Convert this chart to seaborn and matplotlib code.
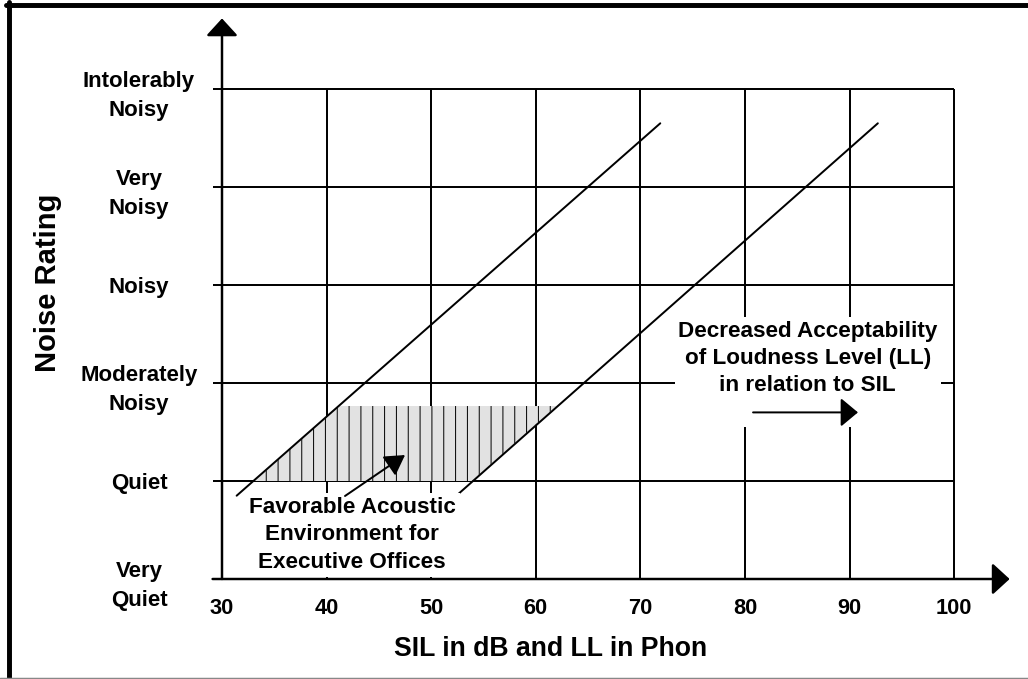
import numpy as np
import pandas as pd
import matplotlib
matplotlib.use("Agg")
import matplotlib.pyplot as plt
from matplotlib.lines import Line2D
import seaborn as sns

# ---------------- data ----------------
x_ticks = [30, 40, 50, 60, 70, 80, 90, 100]
y_levels = [0, 1, 2, 3, 4, 5]
y_labels = ["Very\nQuiet", "Quiet", "Moderately\nNoisy", "Noisy",
            "Very\nNoisy", "Intolerably\nNoisy"]

line1_x = [31.4, 71.9]
line1_y = [0.85, 4.65]
line2_x = [52.3, 92.7]
line2_y = [0.84, 4.65]

zone_y = [1.0, 1.765]
zone_left = [33.1, 41.2]
zone_right = [53.9, 62.0]

fav_arrow_tail = (41.76, 0.847)
fav_arrow_head = (47.5, 1.265)
dec_arrow_tail = (80.77, 1.70)
dec_arrow_head = (90.8, 1.70)

fav_text = "Favorable Acoustic\nEnvironment for\nExecutive Offices"
fav_pos = (42.43, 0.449)
dec_text = "Decreased Acceptability\nof Loudness Level (LL)\nin relation to SIL\n "
dec_pos = (86.0, 2.11)

x_axis_start, x_axis_end = 29.1, 105.3
y_axis_top = 5.72
grid_left = 29.1

# ---------------- style ----------------
sns.set_theme(style="white")
plt.rcParams["font.family"] = ["Liberation Sans", "DejaVu Sans"]
plt.rcParams["hatch.linewidth"] = 1.0
plt.rcParams["text.color"] = "black"
plt.rcParams["axes.labelcolor"] = "black"
plt.rcParams["xtick.color"] = "black"
plt.rcParams["ytick.color"] = "black"

DPI = 71
fig = plt.figure(figsize=(1028 / DPI, 679 / DPI), dpi=DPI)
ax = fig.add_axes([0.19560, 0.13284, 0.79366, 0.86598])
ax.set_xlim(28, 106)
ax.set_ylim(-0.1, 5.9)
for s in ax.spines.values():
    s.set_visible(False)
ax.set_facecolor("white")

# grid
ax.hlines(y_levels[1:], grid_left, x_ticks[-1], color="black", lw=2.0, zorder=1)
ax.vlines(x_ticks[1:], 0, y_levels[-1], color="black", lw=2.0, zorder=1)

# axes with arrows
ax.annotate("", xy=(x_axis_end, 0), xytext=(x_axis_start, 0),
            arrowprops=dict(arrowstyle="-|>,head_length=0.6,head_width=0.55",
                            mutation_scale=25, lw=2.5, color="black",
                            shrinkA=0, shrinkB=0), zorder=6)
ax.annotate("", xy=(x_ticks[0], y_axis_top), xytext=(x_ticks[0], 0),
            arrowprops=dict(arrowstyle="-|>,head_length=0.6,head_width=0.55",
                            mutation_scale=25, lw=2.5, color="black",
                            shrinkA=0, shrinkB=0), zorder=6)

# favourable zone
ax.fill_betweenx(zone_y, zone_left, zone_right, facecolor="#e2e2e2",
                 edgecolor="black", hatch="|", linewidth=0, zorder=2)

# diagonal lines
df = pd.DataFrame({
    "x": line1_x + line2_x,
    "y": line1_y + line2_y,
    "line": ["LL1", "LL1", "LL2", "LL2"],
})
sns.lineplot(data=df, x="x", y="y", hue="line", palette=["black", "black"],
             sort=False, estimator=None, lw=2.0, legend=False, ax=ax, zorder=3)

# texts
ax.text(*fav_pos, fav_text, ha="center", va="center", fontsize=22.8,
        fontweight="bold", linespacing=1.4, zorder=4, color="black",
        bbox=dict(boxstyle="square,pad=0.2", fc="white", ec="none"))
ax.text(*dec_pos, dec_text, ha="center", va="center", fontsize=22.8,
        fontweight="bold", linespacing=1.4, zorder=4, color="black",
        bbox=dict(boxstyle="square,pad=0.15", fc="white", ec="none"))

ax.annotate("", xy=fav_arrow_head, xytext=fav_arrow_tail,
            arrowprops=dict(arrowstyle="-|>,head_length=0.68,head_width=0.4",
                            mutation_scale=25, lw=2.0, color="black",
                            shrinkA=0, shrinkB=0), zorder=5)
ax.annotate("", xy=dec_arrow_head, xytext=dec_arrow_tail,
            arrowprops=dict(arrowstyle="-|>,head_length=0.6,head_width=0.5",
                            mutation_scale=25, lw=2.0, color="black",
                            shrinkA=0, shrinkB=0), zorder=5)

# ticks
ax.set_xticks(x_ticks)
ax.set_xticklabels([str(v) for v in x_ticks], fontsize=22, fontweight="bold")
ax.set_yticks(y_levels)
ax.set_yticklabels(y_labels, fontsize=22.5, fontweight="bold")
for t in ax.get_yticklabels():
    t.set_horizontalalignment("center")
    t.set_linespacing(1.5)
ax.tick_params(axis="x", length=0, pad=9, colors="black")
ax.tick_params(axis="y", length=0, pad=63, colors="black")

ax.set_xlabel("SIL in dB and LL in Phon", fontsize=27, fontweight="bold",
              color="black")
ax.xaxis.set_label_coords(0.4289, -0.080)
ax.set_ylabel("Noise Rating", fontsize=29.5, fontweight="bold", color="black")
ax.yaxis.set_label_coords(-0.1705, 0.52)

# figure frame
W, H = 1028, 679
fig.add_artist(Line2D([8.5 / W, 8.5 / W], [0, 1 - 2 / H], color="black",
                      lw=5, transform=fig.transFigure))
fig.add_artist(Line2D([6 / W, 1], [1 - 5 / H, 1 - 5 / H], color="black",
                      lw=5, transform=fig.transFigure))
fig.add_artist(Line2D([0, 1], [1.5 / H, 1.5 / H], color="#888888",
                      lw=1.5, transform=fig.transFigure))

fig.savefig("out.png", dpi=DPI, facecolor="white")
